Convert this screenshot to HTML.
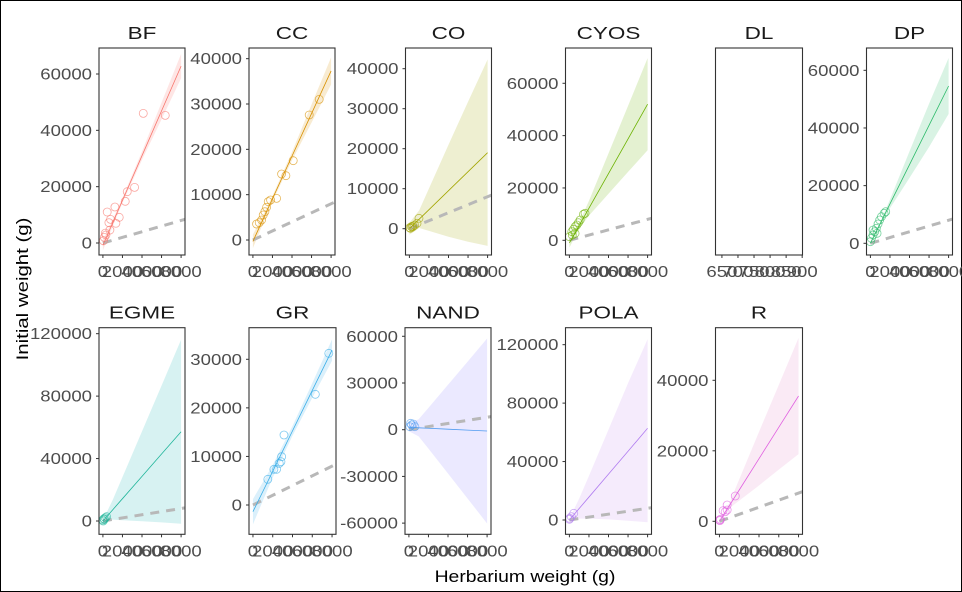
<!DOCTYPE html>
<html><head><meta charset="utf-8">
<style>
html,body{margin:0;padding:0;background:#fff}
svg{display:block}
text{font-family:"Liberation Sans",Arial,sans-serif}
</style></head>
<body>
<svg id="chart" width="962" height="592" viewBox="0 0 962 592" xmlns="http://www.w3.org/2000/svg">
<rect x="0.5" y="0.5" width="961" height="591" fill="#fff" stroke="#000" stroke-width="1"/>
<g id="plots"></g>
<text x="525" y="582" font-size="17" text-anchor="middle" transform="translate(525 0) scale(1.14 1) translate(-525 0)">Herbarium weight (g)</text>
<text x="0" y="0" font-size="17" text-anchor="middle" transform="translate(28 289) rotate(-90) scale(1.2 1)">Initial weight (g)</text>
</svg>
<script>
// ---- data ----
const panelNames = ["BF","CC","CO","CYOS","DL","DP","EGME","GR","NAND","POLA","R"];
const ribX = [0,1000,2000,4000,6000,8000];
const xTicks = [0,2000,4000,6000,8000];
const dlTicks = [650,700,750,800,850,900];

const ptsX_BF = [50,440,307,716,614,784,1228,1330,1670,2285,2490,3240,4130,6380,150,250];
const ptsY_BF = [800,11000,2840,4600,7220,8400,12780,7000,9120,14800,18220,19760,46030,45320,2000,3500];
const line_BF = [-800,7150,15100,31000,46900,62800];
const lo_BF = [-2600,5950,14200,29500,43900,58500];
const hi_BF = [1000,8350,16000,32500,49900,67100];
const yTicks_BF = [0,20000,40000,60000];

const ptsX_CC = [375,648,887,1057,1228,1398,1569,1808,2422,2934,3376,4126,5760,6785];
const ptsY_CC = [3530,3820,4410,5515,6250,7210,8460,8820,9190,14560,14190,17500,27580,31030];
const line_CC = [-300,4400,9100,18500,27900,37300];
const lo_CC = [-1800,3500,8500,17600,25900,34300];
const hi_CC = [1200,5300,9700,19400,29900,40300];
const yTicks_CC = [0,10000,20000,30000,40000];

const ptsX_CO = [30,200,370,540,780,980,100,300];
const ptsY_CO = [250,500,670,850,1350,2600,100,400];
const line_CO = [0,2375,4750,9500,14250,19000];
const lo_CO = [-1500,175,-550,-2000,-3250,-4300];
const hi_CO = [1500,4575,10050,21000,31750,42300];
const yTicks_CO = [0,10000,20000,30000,40000];

const ptsX_CYOS = [0,245,410,580,760,920,1095,1430,1600,580,300];
const ptsY_CYOS = [1380,3290,4200,5200,5850,6730,7760,9930,10320,2670,2000];
const line_CYOS = [-1000,5625,12250,25500,38750,52000];
const lo_CYOS = [-2800,4425,9450,17800,26150,34400];
const hi_CYOS = [800,6825,15050,33200,51350,69600];
const yTicks_CYOS = [0,20000,40000,60000];

const ptsX_DP = [0,100,270,440,610,780,950,1130,1400,1565,270,680];
const ptsY_DP = [560,1730,2880,4020,5200,6700,8080,9230,10400,10960,4610,3470];
const line_DP = [0,6820,13640,27280,40920,54560];
const lo_DP = [-600,6420,12140,22680,33420,44860];
const hi_DP = [600,7220,15140,31880,48420,64260];
const yTicks_DP = [0,20000,40000,60000];

const ptsX_EGME = [0,100,240,375,30,150];
const ptsY_EGME = [640,1470,2100,2750,0,1070];
const line_EGME = [0,7150,14300,28600,42900,57200];
const lo_EGME = [-500,850,500,-200,-900,-1800];
const hi_EGME = [500,13450,28100,57400,86700,116200];
const yTicks_EGME = [0,40000,80000,120000];

const ptsX_GR = [1504,2118,2390,2660,2830,2900,3140,6310,7670];
const ptsY_GR = [5290,7350,7350,8580,8920,9950,14410,22790,31230];
const line_GR = [-1380,2780,6940,15260,23590,31910];
const lo_GR = [-3980,880,5640,14260,22090,29710];
const hi_GR = [1220,4680,8240,16260,25090,34110];
const yTicks_GR = [0,10000,20000,30000];

const ptsX_NAND = [100,270,440,610,170];
const ptsY_NAND = [1930,3020,3660,1930,4110];
const line_NAND = [1500,1210,920,330,-250,-835];
const lo_NAND = [-1000,-4290,-12180,-28170,-44150,-60235];
const hi_NAND = [4000,6710,14020,28830,43650,58565];
const yTicks_NAND = [-60000,-30000,0,30000,60000];

const ptsX_POLA = [0,200,440,30];
const ptsY_POLA = [480,2260,4560,1140];
const line_POLA = [0,7845,15690,31380,47070,62760];
const lo_POLA = [-800,900,900,400,-500,-1500];
const hi_POLA = [800,14645,30190,61880,93670,123690];
const yTicks_POLA = [0,40000,80000,120000];

const ptsX_R = [0,100,370,580,780,780,1600,50];
const ptsY_R = [370,570,3010,2720,3210,4620,7180,200];
const line_R = [0,4440,8880,17770,26660,35550];
const lo_R = [-500,3740,5880,10170,14660,19050];
const hi_R = [500,5140,11880,25370,38660,52050];
const yTicks_R = [0,20000,40000];

// ---- layout / scales config ----
const layout = {
  BF:{x0:99,x1:185,row:0,yd:[-4260,69230],col:"#F8766D",rc:"#F8766D",px:ptsX_BF,py:ptsY_BF,ln:line_BF,lo:lo_BF,hi:hi_BF,yt:yTicks_BF},
  CC:{x0:249,x1:335,row:0,yd:[-3309,42357],col:"#D89000",rc:"#D89000",px:ptsX_CC,py:ptsY_CC,ln:line_CC,lo:lo_CC,hi:hi_CC,yt:yTicks_CC},
  CO:{x0:405.5,x1:491.5,row:0,yd:[-6575,45175],col:"#A3A500",rc:"#A3A500",px:ptsX_CO,py:ptsY_CO,ln:line_CO,lo:lo_CO,hi:hi_CO,yt:yTicks_CO},
  CYOS:{x0:565.5,x1:651.5,row:0,yd:[-5617,73483],col:"#6BB100",rc:"#6BB100",px:ptsX_CYOS,py:ptsY_CYOS,ln:line_CYOS,lo:lo_CYOS,hi:hi_CYOS,yt:yTicks_CYOS},
  DL:{x0:715.5,x1:802.5,row:0,empty:true},
  DP:{x0:866.5,x1:952.5,row:0,yd:[-4058,67740],col:"#2DBA6A",rc:"#2DBA6A",px:ptsX_DP,py:ptsY_DP,ln:line_DP,lo:lo_DP,hi:hi_DP,yt:yTicks_DP},
  EGME:{x0:99,x1:185,row:1,yd:[-8520,123830],col:"#20B59A",rc:"#20B5B5",px:ptsX_EGME,py:ptsY_EGME,ln:line_EGME,lo:lo_EGME,hi:hi_EGME,yt:yTicks_EGME},
  GR:{x0:249,x1:336,row:1,yd:[-6033,36505],col:"#3AAEE8",rc:"#3AAEE8",px:ptsX_GR,py:ptsY_GR,ln:line_GR,lo:lo_GR,hi:hi_GR,yt:yTicks_GR},
  NAND:{x0:405,x1:491,row:1,yd:[-67180,65510],col:"#4F9BF0",rc:"#8F86FF",px:ptsX_NAND,py:ptsY_NAND,ln:line_NAND,lo:lo_NAND,hi:hi_NAND,yt:yTicks_NAND},
  POLA:{x0:565.5,x1:651.5,row:1,yd:[-9790,131620],col:"#B07CF0",rc:"#C990F0",px:ptsX_POLA,py:ptsY_POLA,ln:line_POLA,lo:lo_POLA,hi:hi_POLA,yt:yTicks_POLA},
  R:{x0:715.5,x1:802.5,row:1,yd:[-3688,54920],col:"#E060E0",rc:"#E58AC8",px:ptsX_R,py:ptsY_R,ln:line_R,lo:lo_R,hi:hi_R,yt:yTicks_R}
};
const rows = [{top:48,bot:255},{top:327.7,bot:534.3}];
const NS = "http://www.w3.org/2000/svg";
const root = document.getElementById("plots");
const SX = 1.2;

function mk(tag, attrs, parent){
  const e = document.createElementNS(NS, tag);
  for (const k in attrs) e.setAttribute(k, attrs[k]);
  parent.appendChild(e);
  return e;
}
function label(parent, txt, x, y, anchor, size, fill, sx){
  const t = mk("text", {x:0, y:0, "font-size":size, fill:fill, "text-anchor":anchor,
    transform:"translate("+x+" "+y+") scale("+(sx||SX)+" 1)"}, parent);
  t.textContent = txt;
  return t;
}

panelNames.forEach((name, i) => {
  const p = layout[name];
  const r = rows[p.row];
  const g = mk("g", {}, root);
  
  

  const xd = p.empty ? [630, 901] : [-400, 8400];
  const xs = v => p.x0 + (v - xd[0]) / (xd[1] - xd[0]) * (p.x1 - p.x0);
  const yd = p.empty ? [0,1] : p.yd;
  const ys = v => r.bot - (v - yd[0]) / (yd[1] - yd[0]) * (r.bot - r.top);

  const st = label(g, name, (p.x0+p.x1)/2, r.top - 9, "middle", 18, "#1a1a1a", 1.25);
  
  

  const cid = "clip" + i;
  const cp = mk("clipPath", {id:cid}, g);
  mk("rect", {x:p.x0, y:r.top, width:p.x1-p.x0, height:r.bot-r.top}, cp);
  const plot = mk("g", {"clip-path":"url(#"+cid+")"}, g);

  if (!p.empty) {
    let d = "";
    ribX.forEach((x,k) => { d += (k?"L":"M") + xs(x).toFixed(2) + "," + ys(p.hi[k]).toFixed(2); });
    for (let k = ribX.length-1; k >= 0; k--) d += "L" + xs(ribX[k]).toFixed(2) + "," + ys(p.lo[k]).toFixed(2);
    const rib = mk("path", {d:d+"Z", fill:p.rc, "fill-opacity":0.18, stroke:"none"}, plot);
    
    

    const idl = mk("line", {x1:xs(0), y1:ys(0), x2:xs(8400), y2:ys(8400), stroke:"#b8b8b8", "stroke-width":3, "stroke-dasharray":"9,7"}, plot);
    
    

    const pts = ribX.map((x,k) => xs(x).toFixed(2) + "," + ys(p.ln[k]).toFixed(2)).join(" ");
    const rl = mk("polyline", {points:pts, fill:"none", stroke:p.col, "stroke-width":0.8}, plot);
    
    

    p.px.forEach((x,k) => {
      const c = mk("circle", {cx:xs(x), cy:ys(p.py[k]), r:4, fill:"none", stroke:p.col, "stroke-width":0.8, "stroke-opacity":0.65}, plot);
      
      
    });

    p.yt.forEach(v => {
      const yy = ys(v);
      mk("line", {x1:p.x0-3, y1:yy, x2:p.x0, y2:yy, stroke:"#333", "stroke-width":1}, g);
      const t = label(g, String(v), p.x0 - 7, yy + 5.5, "end", 15.5, "#4d4d4d");
      
      
    });
  }

  const ticks = p.empty ? dlTicks : xTicks;
  ticks.forEach(v => {
    const xx = xs(v);
    mk("line", {x1:xx, y1:r.bot, x2:xx, y2:r.bot+3, stroke:"#333", "stroke-width":1}, g);
    const t = label(g, String(v), xx, r.bot + 22, "middle", 15.5, "#4d4d4d");
    
    
  });

  const b = mk("rect", {x:p.x0, y:r.top, width:p.x1-p.x0, height:r.bot-r.top, fill:"none", stroke:"#333", "stroke-width":1.1}, g);
  
  
});
</script>
</body></html>
